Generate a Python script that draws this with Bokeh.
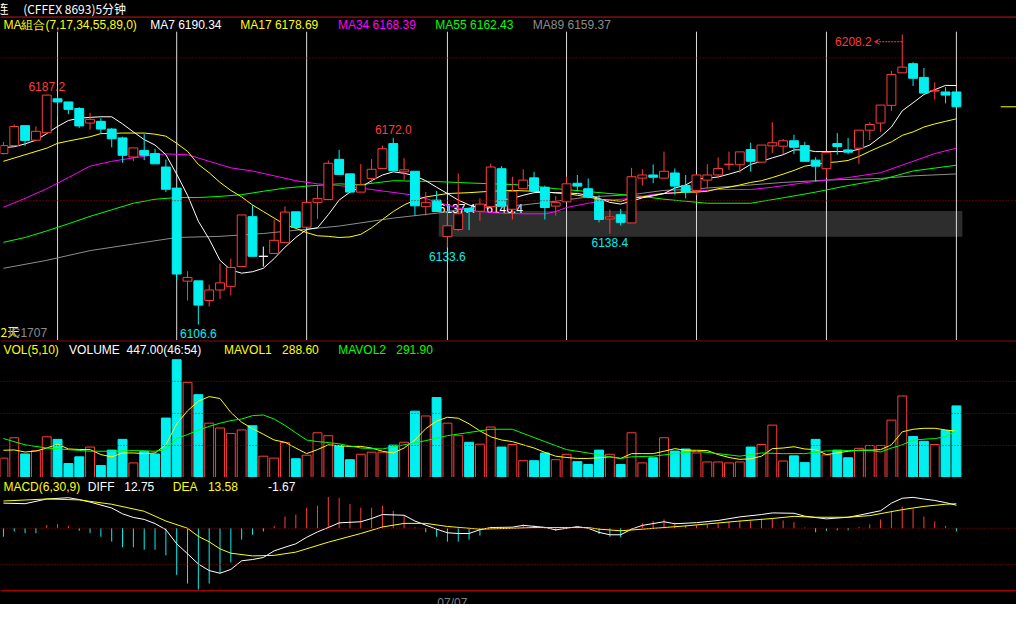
from bokeh.plotting import figure
from bokeh.layouts import column
from bokeh.models import ColumnDataSource, Range1d, Span, Label, Arrow, OpenHead
from bokeh.core.properties import value
from bokeh.embed import file_html
from bokeh.resources import INLINE

# ---------------- data ----------------
opens = [6166.5, 6169.3, 6176.3, 6171.2, 6173.8, 6185.7, 6184.6, 6182.3, 6177.2, 6177.8,
         6175.1, 6172.0, 6165.3, 6167.6, 6166.5, 6161.8, 6154.4, 6121.8, 6121.9, 6115.0,
         6118.7, 6120.0, 6126.9, 6144.4, 6130.5, 6131.5, 6135.3, 6146.1, 6140.7, 6149.4,
         6150.4, 6164.5, 6159.4, 6153.0, 6157.8, 6161.3, 6170.0, 6160.1, 6160.3, 6147.9,
         6150.2, 6137.4, 6139.9, 6147.3, 6146.3, 6147.9, 6161.2, 6147.0, 6154.2, 6158.0,
         6154.7, 6148.1, 6149.6, 6156.1, 6154.2, 6150.4, 6143.6, 6145.1, 6142.2, 6157.9,
         6159.0, 6157.9, 6159.7, 6155.3, 6153.6, 6157.2, 6159.0, 6162.6, 6162.6, 6167.9,
         6163.5, 6169.2, 6169.1, 6171.0, 6169.3, 6164.2, 6161.2, 6170.0, 6167.8, 6168.4,
         6174.7, 6177.2, 6183.4, 6194.8, 6198.0, 6193.2, 6188.4, 6188.1, 6188.1]
highs = [6170.6, 6176.7, 6176.3, 6176.0, 6187.2, 6186.5, 6184.6, 6182.8, 6180.8, 6178.9,
         6175.5, 6172.4, 6168.5, 6173.3, 6168.2, 6164.4, 6154.4, 6125.3, 6121.9, 6120.6,
         6128.0, 6129.7, 6145.0, 6148.5, 6133.9, 6143.3, 6148.0, 6146.1, 6149.4, 6155.1,
         6164.1, 6167.8, 6159.4, 6162.8, 6164.6, 6169.3, 6172.0, 6164.9, 6160.3, 6153.0,
         6153.4, 6146.2, 6159.6, 6147.3, 6150.8, 6163.0, 6162.1, 6158.4, 6161.0, 6160.1,
         6155.3, 6151.6, 6158.4, 6159.0, 6157.8, 6151.9, 6146.8, 6147.1, 6161.5, 6161.0,
         6162.7, 6167.2, 6161.3, 6159.0, 6159.3, 6162.8, 6165.2, 6167.2, 6167.1, 6170.3,
         6169.5, 6177.5, 6171.6, 6173.1, 6170.6, 6165.2, 6166.9, 6173.7, 6172.0, 6174.7,
         6177.5, 6183.5, 6195.5, 6208.2, 6198.5, 6196.5, 6191.5, 6189.8, 6188.1]
lows = [6166.2, 6169.3, 6169.2, 6171.2, 6173.8, 6179.5, 6180.3, 6175.5, 6174.9, 6173.5,
        6168.7, 6163.3, 6163.8, 6164.2, 6162.9, 6153.0, 6122.1, 6115.0, 6106.6, 6112.9,
        6115.5, 6116.8, 6126.9, 6130.5, 6126.9, 6131.5, 6135.3, 6140.0, 6140.7, 6143.6,
        6150.4, 6159.2, 6153.0, 6153.0, 6156.2, 6161.3, 6160.5, 6157.3, 6144.8, 6144.8,
        6146.2, 6133.6, 6139.4, 6139.7, 6143.0, 6147.9, 6148.1, 6143.4, 6154.2, 6153.4,
        6143.4, 6144.8, 6149.6, 6153.3, 6150.8, 6142.4, 6138.4, 6141.3, 6142.2, 6155.3,
        6156.1, 6157.9, 6152.1, 6150.8, 6151.9, 6154.4, 6157.8, 6160.8, 6159.8, 6160.2,
        6163.5, 6166.7, 6166.3, 6166.3, 6163.8, 6156.8, 6158.1, 6166.1, 6166.3, 6162.9,
        6171.2, 6174.1, 6181.5, 6194.8, 6190.2, 6187.7, 6185.4, 6184.1, 6182.6]
closes = [6169.3, 6176.0, 6171.1, 6174.3, 6187.0, 6184.6, 6182.0, 6176.2, 6178.5, 6175.1,
          6171.7, 6165.9, 6168.5, 6165.9, 6162.9, 6154.0, 6124.3, 6123.1, 6113.4, 6118.7,
          6121.2, 6126.6, 6145.0, 6130.5, 6130.5, 6136.1, 6146.0, 6140.6, 6149.4, 6150.8,
          6163.1, 6159.2, 6153.0, 6155.5, 6161.0, 6168.2, 6160.5, 6160.8, 6148.2, 6149.4,
          6146.2, 6141.2, 6145.4, 6146.2, 6148.8, 6161.8, 6148.1, 6153.3, 6157.2, 6153.4,
          6147.6, 6149.3, 6155.9, 6155.1, 6151.3, 6143.4, 6144.3, 6142.4, 6158.4, 6159.0,
          6158.2, 6160.3, 6155.1, 6153.0, 6159.0, 6159.0, 6161.3, 6162.8, 6167.1, 6163.8,
          6169.5, 6170.3, 6171.0, 6168.7, 6163.8, 6162.1, 6166.9, 6169.0, 6167.0, 6174.7,
          6176.7, 6183.5, 6194.2, 6196.8, 6192.9, 6187.7, 6188.6, 6187.0, 6182.9]
volumes = [121, 248, 147, 167, 254, 238, 87, 129, 190, 75, 171, 238, 91, 164, 147, 371, 735, 594,
           517, 339, 309, 275, 297, 323, 133, 121, 218, 117, 139, 279, 261, 198, 111, 145, 158,
           158, 202, 220, 414, 384, 499, 339, 261, 220, 208, 315, 190, 206, 105, 105, 153, 111,
           145, 99, 81, 171, 145, 81, 279, 91, 123, 248, 165, 178, 153, 97, 97, 91, 97, 190, 206,
           327, 103, 135, 93, 238, 141, 171, 123, 182, 200, 200, 358, 509, 256, 226, 206, 293, 447]
macd_hist = [-4.7, -1.8, -2.7, -2.7, 1.8, 2.3, 1.3, -1.4, -2.7, -4.7, -7.4, -10.5, -10.5, -11.9,
             -11.9, -15.0, -25.8, -30.6, -33.9, -30.6, -24.9, -18.9, -6.3, -3.6, -1.8, 1.3, 6.5,
             7.6, 11.4, 12.4, 17.3, 16.8, 13.5, 11.4, 11.4, 12.4, 9.7, 7.0, 0.5, -2.2, -4.7, -7.4,
             -7.4, -6.3, -4.1, 0.9, 0.4, 0.3, 2.2, 1.6, -0.3, -1.4, 0.4, 0.7, 0.1, -3.2, -4.7,
             -5.0, -0.3, 2.7, 4.0, 4.9, 3.1, 1.8, 1.6, 2.2, 2.7, 3.4, 4.3, 4.0, 5.2, 5.2, 4.3,
             3.4, 0.4, -2.2, -1.4, -1.1, -1.1, 0.7, 2.2, 4.9, 9.7, 11.9, 10.5, 6.5, 3.8, 1.3, -1.67]

ma7 = [6168.6, 6168.9, 6169.9, 6171.2, 6173.5, 6176.0, 6178.1, 6178.9, 6179.2, 6179.4,
       6179.4, 6176.9, 6174.1, 6171.4, 6169.5, 6166.1, 6159.3, 6151.9, 6142.8, 6136.5,
       6129.1, 6125.7, 6124.6, 6125.1, 6126.3, 6129.7, 6133.7, 6137.1, 6139.9, 6140.5,
       6145.1, 6150.2, 6153.0, 6154.7, 6157.0, 6159.0, 6160.1, 6159.6, 6158.7, 6157.0,
       6154.7, 6152.5, 6150.2, 6148.5, 6147.4, 6149.6, 6150.2, 6150.8, 6151.9, 6152.8,
       6153.0, 6152.8, 6152.7, 6152.5, 6151.9, 6150.8, 6149.4, 6148.8, 6149.8, 6151.0,
       6151.7, 6152.5, 6154.4, 6155.5, 6157.6, 6157.9, 6158.3, 6159.3, 6160.4, 6162.7,
       6163.8, 6165.0, 6166.1, 6167.8, 6167.8, 6167.2, 6167.2, 6167.2, 6167.2, 6168.0,
       6169.5, 6172.4, 6175.8, 6181.5, 6184.3, 6187.2, 6188.9, 6190.4, 6190.34]
ma17_idx = [0, 2, 4, 5, 6, 8, 9, 11, 13, 14, 15, 16, 17, 18, 19, 20, 21, 22, 23, 24, 25, 26, 27,
            28, 29, 30, 31, 32, 33, 34, 35, 36, 37, 38, 39, 40, 41, 43, 45, 47, 49, 51, 52, 53,
            54, 55, 56, 57, 58, 59, 60, 61, 62, 63, 64, 65, 66, 67, 68, 69, 70, 71, 72, 73, 74,
            75, 76, 77, 78, 79, 80, 81, 82, 83, 84, 85, 86, 87, 88]
ma17 = [6163.8, 6166.1, 6168.4, 6170.1, 6170.9, 6172.4, 6173.5, 6173.7, 6173.7, 6173.3, 6172.6,
        6170.1, 6167.3, 6162.7, 6159.8, 6156.4, 6153.6, 6151.3, 6148.5, 6146.2, 6143.9, 6141.6,
        6140.3, 6138.8, 6137.7, 6137.5, 6137.1, 6137.3, 6138.2, 6140.5, 6143.4, 6146.2, 6148.5,
        6150.2, 6151.3, 6151.9, 6152.5, 6152.8, 6153.3, 6153.6, 6153.3, 6152.7, 6152.5, 6151.9,
        6151.3, 6150.5, 6150.2, 6149.8, 6150.8, 6151.3, 6151.9, 6152.5, 6152.7, 6153.0, 6153.0,
        6153.3, 6154.2, 6154.7, 6155.5, 6156.4, 6157.0, 6158.1, 6159.3, 6160.6, 6162.1, 6162.7,
        6163.3, 6163.6, 6164.1, 6165.5, 6167.3, 6169.0, 6170.6, 6172.9, 6174.1, 6175.8, 6176.9,
        6177.8, 6178.69]
ma34_idx = [0, 2, 4, 6, 8, 10, 12, 14, 15, 17, 19, 21, 23, 25, 27, 29, 31, 34, 38, 40, 42, 44,
            46, 48, 50, 51, 52, 54, 56, 58, 60, 62, 66, 69, 71, 74, 76, 78, 81, 84, 86, 88]
ma34 = [6147.7, 6150.8, 6154.2, 6158.1, 6162.1, 6163.8, 6165.0, 6166.1, 6166.4, 6166.1, 6163.8,
        6161.5, 6160.4, 6158.7, 6157.0, 6155.9, 6155.3, 6153.9, 6151.9, 6149.6, 6147.4, 6146.2,
        6145.6, 6145.4, 6145.4, 6146.2, 6147.6, 6149.1, 6150.2, 6150.8, 6152.2, 6152.9, 6153.9,
        6153.9, 6154.7, 6156.3, 6157.2, 6158.1, 6159.8, 6163.8, 6166.5, 6168.39]
ma55_idx = [0, 2, 4, 6, 8, 10, 12, 14, 16, 18, 20, 22, 24, 26, 28, 31, 33, 36, 40, 43, 48, 51,
            56, 59, 61, 63, 65, 69, 72, 75, 78, 81, 84, 88]
ma55 = [6135.4, 6137.1, 6139.4, 6141.9, 6144.5, 6146.8, 6149.1, 6150.5, 6151.1, 6151.1, 6151.5,
        6152.1, 6153.3, 6154.4, 6155.1, 6155.9, 6155.6, 6157.0, 6156.7, 6156.2, 6155.5, 6154.2,
        6152.5, 6151.5, 6150.5, 6149.8, 6149.1, 6149.1, 6151.0, 6153.0, 6155.3, 6157.3, 6160.4,
        6162.43]
ma89_idx = [0, 4, 8, 12, 16, 20, 24, 28, 31, 36, 40, 43, 48, 51, 54, 58, 61, 63, 69, 72, 76,
            81, 84, 88]
ma89 = [6126.3, 6129.1, 6132.5, 6134.8, 6137.1, 6137.5, 6138.5, 6140.0, 6141.1, 6143.9, 6145.6,
        6147.4, 6148.5, 6149.8, 6151.3, 6152.1, 6153.6, 6153.9, 6155.5, 6156.4, 6157.2, 6157.8,
        6158.7, 6159.37]

mavol1 = [170, 172, 159, 165, 184, 208, 178, 175, 174, 143, 129, 153, 153, 149, 153, 204, 335,
          416, 476, 505, 493, 406, 345, 305, 270, 234, 220, 184, 149, 174, 204, 198, 194, 194,
          184, 164, 153, 184, 234, 305, 352, 376, 370, 335, 291, 254, 234, 224, 204, 184, 157,
          133, 125, 119, 119, 123, 129, 119, 149, 149, 149, 164, 180, 170, 170, 168, 143, 125,
          113, 117, 133, 180, 184, 192, 178, 174, 143, 153, 164, 170, 170, 174, 204, 285, 301,
          307, 307, 297, 288.60]
mavol2_idx = [0, 2, 4, 6, 8, 10, 12, 14, 15, 16, 17, 18, 19, 20, 21, 22, 23, 24, 25, 26, 27, 28,
              29, 30, 31, 33, 35, 37, 39, 41, 43, 45, 47, 48, 50, 52, 54, 56, 57, 58, 60, 62, 64,
              66, 68, 70, 72, 74, 76, 78, 80, 81, 82, 83, 84, 85, 86, 87, 88]
mavol2 = [243, 204, 184, 174, 164, 164, 168, 164, 174, 244, 268, 295, 319, 339, 355, 365, 386,
          390, 365, 325, 279, 234, 224, 218, 210, 184, 178, 204, 230, 261, 281, 301, 301, 275,
          224, 174, 153, 129, 119, 129, 133, 149, 164, 149, 133, 153, 149, 149, 166, 168, 170,
          159, 184, 204, 234, 239, 243, 254, 291.90]

diff_idx = [0, 2, 4, 6, 7, 8, 10, 11, 12, 13, 14, 15, 16, 17, 18, 19, 20, 21, 22, 23, 24, 25, 26,
            27, 28, 29, 30, 31, 33, 34, 35, 37, 38, 40, 41, 42, 43, 44, 45, 47, 48, 50, 51, 53,
            54, 55, 56, 57, 58, 59, 61, 62, 64, 66, 68, 70, 71, 73, 74, 76, 78, 79, 81, 82, 83,
            84, 85, 86, 87, 88]
diff = [13.9, 13.6, 16.2, 16.9, 15.9, 14.5, 11.2, 8.0, 6.0, 4.9, 2.6, -0.8, -8.6, -14.1, -19.8,
        -23.4, -24.9, -22.8, -18.0, -17.3, -16.2, -12.5, -10.5, -8.6, -5.0, -2.0, 0.4, 3.0, 3.6,
        5.4, 7.6, 7.2, 4.0, -0.5, -2.5, -2.9, -2.9, -0.8, 0.4, 0.6, 1.6, 0.5, -0.9, 0.9, 0.0,
        -2.3, -3.6, -3.6, -0.5, 1.6, 3.6, 2.5, 3.1, 4.3, 6.3, 7.6, 8.5, 8.3, 6.7, 5.2, 6.1, 7.2,
        9.7, 13.9, 16.6, 17.1, 16.2, 15.4, 14.2, 12.75]
dea_idx = [0, 4, 7, 10, 13, 15, 17, 18, 19, 20, 21, 23, 25, 27, 30, 33, 35, 37, 39, 41, 44, 47,
           49, 54, 55, 57, 59, 61, 63, 65, 68, 71, 73, 75, 78, 80, 83, 85, 87, 88]
dea = [15.1, 16.2, 15.7, 13.3, 9.4, 4.0, 0.0, -4.5, -7.5, -11.4, -13.8, -15.3, -15.0, -13.2,
       -7.7, -2.9, 0.7, 2.7, 2.7, 1.0, -0.5, 0.0, 0.4, 0.4, -0.5, -1.4, -0.5, 0.4, 1.3, 2.4, 4.0,
       5.4, 6.6, 6.1, 6.1, 7.0, 10.3, 12.1, 13.3, 13.58]

hour_marks = [5, 16, 28, 41, 52, 64, 76, 88]
price_grid = [6150, 6200]
vol_grid = [200, 400, 600]
macd_grid = [0, -20]
gap_lo, gap_hi = 6137.4, 6146.4
high_marks = [4, 36]          # candles whose high is labelled above
low_marks = [18, 41, 56]      # candles whose low is labelled below
peak_mark = 83                # labelled with an arrow
date_label = "07/07"
date_idx = 41

# ---------------- layout / style ----------------
W = 1016
H1, H2, H3 = 340, 137, 127
SX = W / 1032.0
SY = 604 / 620.0
X_LO, X_HI = -0.27, 93.55
P_LO, P_HI = 6101.0, 6220.15
V_LO, V_HI = 0, 855
M_LO, M_HI = -42.2, 28.1
RED = "#FF3C3C"
CYAN = "#00F0F0"
YELLOW = "#FFFF00"
WHITE = "#FFFFFF"
MAGENTA = "#FF00FF"
GREEN = "#00FF00"
GRAY = "#8C8C8C"
SEP = "#C01818"
DOT = "#A00000"
FONT = "Liberation Sans"
CJK = "Noto Sans CJK SC"

xr = Range1d(X_LO, X_HI)


def make_fig(h, lo, hi):
    p = figure(width=W, height=h, x_range=xr, y_range=Range1d(lo, hi),
               output_backend="svg", toolbar_location=None, tools="", title=None,
               x_axis_location=None, y_axis_location=None,
               background_fill_color="black", border_fill_color="black",
               min_border=0, min_border_left=0, min_border_right=0,
               min_border_top=0, min_border_bottom=0)
    p.grid.visible = False
    p.outline_line_color = None
    return p


def hdr(p, h, items, yref, size="12px", font=FONT):
    for txt, xref, col in items:
        p.add_layout(Label(x=xref * SX, y=h - yref * SY, x_units="screen", y_units="screen",
                           text=txt, text_color=col, text_font=font, text_font_size=size,
                           text_baseline="middle", text_align="left"))


n = len(closes)
idx = list(range(n))
col = [RED if c > o else (CYAN if c < o else WHITE) for o, c in zip(opens, closes)]
fill = ["black" if c > o else (CYAN if c < o else WHITE) for o, c in zip(opens, closes)]
vcol = [RED if c >= o else CYAN for o, c in zip(opens, closes)]
vfill = ["black" if c >= o else CYAN for o, c in zip(opens, closes)]
src = ColumnDataSource(dict(
    x=idx, high=highs, low=lows,
    top=[max(o, c) for o, c in zip(opens, closes)],
    bot=[min(o, c) for o, c in zip(opens, closes)],
    col=col, fill=fill, vol=volumes, vcol=vcol, vfill=vfill, zero=[0] * n,
    hist=macd_hist, hcol=[RED if v > 0 else CYAN for v in macd_hist]))

# ---------------- price panel ----------------
p1 = make_fig(H1, P_LO, P_HI)
ppu1 = H1 / (P_HI - P_LO)


def p_at(yref):
    return P_HI - yref * SY / ppu1


p1.add_layout(Span(location=p_at(17), dimension="width", line_color=SEP, line_width=1))
for g in price_grid:
    p1.add_layout(Span(location=g, dimension="width", line_color=DOT, line_width=1, line_dash="1 2"))

p1.quad(left=[hour_marks[3] - 0.8], right=[hour_marks[-1] + 0.55], bottom=[gap_lo], top=[gap_hi],
        fill_color="#2D2D2D", line_color=None)
p1.text(x=[hour_marks[3] - 0.8], y=[gap_hi], text=[f"{gap_lo} - {gap_hi}"], text_color=WHITE,
        text_font=value(FONT), text_font_size="12px", text_baseline="alphabetic",
        text_align="left", y_offset=-2)

p1.segment(x0=hour_marks, y0=[P_LO] * len(hour_marks), x1=hour_marks,
           y1=[p_at(32)] * len(hour_marks), line_color="#DCDCDC", line_width=1)

p1.line(ma89_idx, ma89, line_color=GRAY, line_width=1)
p1.line(ma55_idx, ma55, line_color=GREEN, line_width=1)
p1.line(ma34_idx, ma34, line_color=MAGENTA, line_width=1)
p1.line(ma17_idx, ma17, line_color=YELLOW, line_width=1)
p1.line(idx, ma7, line_color=WHITE, line_width=1)

p1.segment(x0="x", y0="high", x1="x", y1="top", line_color="col", line_width=1, source=src)
p1.segment(x0="x", y0="bot", x1="x", y1="low", line_color="col", line_width=1, source=src)
p1.vbar(x="x", width=0.82, top="top", bottom="bot", fill_color="fill", line_color="col",
        line_width=1, source=src)

# last price marker at the right edge
p1.segment(x0=[(1016 - 3) / 11.0], x1=[X_HI], y0=[closes[-1]], y1=[closes[-1]],
           line_color=YELLOW, line_width=1)

for i in high_marks:
    p1.add_layout(Label(x=i, y=highs[i], text=f"{highs[i]:.1f}", text_color=RED, text_font=FONT,
                        text_font_size="12px", text_align="center", text_baseline="middle",
                        y_offset=8.5 * SY))
for i in low_marks:
    p1.add_layout(Label(x=i, y=lows[i], text=f"{lows[i]:.1f}", text_color=CYAN, text_font=FONT,
                        text_font_size="12px", text_align="center", text_baseline="middle",
                        y_offset=-9 * SY))
yarr = highs[peak_mark] - 7.3 * SY / ppu1
p1.add_layout(Label(x=peak_mark, y=yarr, text=f"{highs[peak_mark]:.1f}", text_color=RED,
                    text_font=FONT, text_font_size="12px", text_align="right",
                    text_baseline="middle", x_offset=-31 * SX))
p1.add_layout(Arrow(x_start=peak_mark, y_start=yarr, x_end=peak_mark - 28 / 11.0, y_end=yarr,
                    line_color=RED, line_width=1, line_dash="2 1",
                    end=OpenHead(size=5, line_color=RED, line_width=1)))

hdr(p1, H1, [("连", -4, WHITE)], 8, font=CJK)
hdr(p1, H1, [("(CFFEX 8693)5分钟", 23, WHITE)], 8, font=CJK)
hdr(p1, H1, [("MA組合(7,17,34,55,89,0)", 3, YELLOW),
             (f"MA7 {ma7[-1]:.2f}", 152, WHITE),
             (f"MA17 {ma17[-1]:.2f}", 243.5, YELLOW),
             (f"MA34 {ma34[-1]:.2f}", 342.7, MAGENTA),
             (f"MA55 {ma55[-1]:.2f}", 441.7, GREEN),
             (f"MA89 {ma89[-1]:.2f}", 540.7, GRAY)], 25)
hdr(p1, H1, [("2天", 0, YELLOW)], 339.5, font=CJK)
hdr(p1, H1, [("IC1707", 8, GRAY)], 341)

# ---------------- volume panel ----------------
p2 = make_fig(H2, V_LO, V_HI)
p2.add_layout(Span(location=V_HI - 2, dimension="width", line_color=SEP, line_width=1))
for g in vol_grid:
    p2.add_layout(Span(location=g, dimension="width", line_color=DOT, line_width=1, line_dash="1 2"))
p2.vbar(x="x", width=0.82, top="vol", bottom="zero", fill_color="vfill", line_color="vcol",
        line_width=1, source=src)
p2.line(idx, mavol1, line_color=YELLOW, line_width=1)
p2.line(mavol2_idx, mavol2, line_color=GREEN, line_width=1)
p2.add_layout(Span(location=0, dimension="width", line_color=SEP, line_width=1))
vol_last = volumes[-1]
hdr(p2, H2, [("VOL(5,10)", 3, YELLOW), ("VOLUME", 69.7, WHITE),
             (f"{vol_last:.2f}(46:54)", 128, WHITE),
             ("MAVOL1", 227, YELLOW), (f"{mavol1[-1]:.2f}", 286, YELLOW),
             ("MAVOL2", 343, GREEN), (f"{mavol2[-1]:.2f}", 402, GREEN)], 9.3)

# ---------------- MACD panel ----------------
p3 = make_fig(H3, M_LO, M_HI)
for g in macd_grid:
    p3.add_layout(Span(location=g, dimension="width", line_color=DOT, line_width=1, line_dash="1 2"))
p3.segment(x0="x", y0="zero", x1="x", y1="hist", line_color="hcol", line_width=1, source=src)
p3.line(diff_idx, diff, line_color=WHITE, line_width=1)
p3.line(dea_idx, dea, line_color=YELLOW, line_width=1)
p3.add_layout(Span(location=(542 - 606) / 1.85, dimension="width", line_color="#E00000",
                   line_width=1))
hdr(p3, H3, [("MACD(6,30,9)", 3, YELLOW), ("DIFF", 88.7, WHITE), (f"{diff[-1]:.2f}", 125.7, WHITE),
             ("DEA", 175, YELLOW), (f"{dea[-1]:.2f}", 210.7, YELLOW),
             (f"{macd_hist[-1]:.2f}", 271.7, WHITE)], 9.7)
p3.add_layout(Label(x=date_idx, y=8.4, y_units="screen", x_offset=5 * SX, text=date_label,
                    text_color="#808080", text_font=FONT, text_font_size="12px",
                    text_align="center", text_baseline="top"))

layout = column(p1, p2, p3, spacing=0)
layout.styles = {"background-color": "black"}
open("out.html", "w").write(file_html(layout, INLINE))
